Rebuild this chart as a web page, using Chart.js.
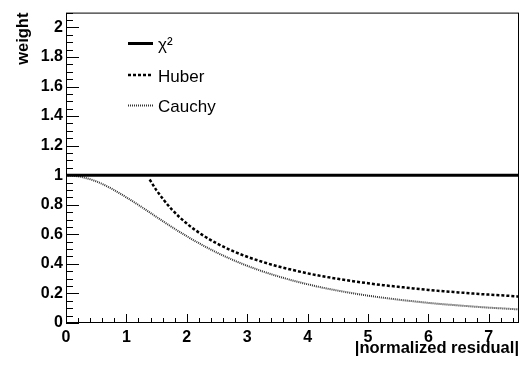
<!DOCTYPE html>
<html>
<head>
<meta charset="utf-8">
<script src="https://cdn.jsdelivr.net/npm/chart.js@4"></script>
<style>
html,body{margin:0;padding:0;background:#fff;}
canvas{display:block;}
</style>
</head>
<body>
<canvas id="c" width="524" height="371"></canvas>
<script>
// ---- data ----
const seriesNames = ['\u03C7\u00B2', 'Huber', 'Cauchy'];
const chi2X = [0, 7.5];
const chi2Weights = [1, 1];
const huberX = [1.385, 1.5, 1.75, 2.0, 2.25, 2.5, 2.75, 3.0, 3.25, 3.5, 3.75, 4.0, 4.25, 4.5, 4.75, 5.0, 5.25, 5.5, 5.75, 6.0, 6.25, 6.5, 6.75, 7.0, 7.25, 7.5];
const huberWeights = [0.971, 0.897, 0.769, 0.673, 0.598, 0.538, 0.489, 0.448, 0.414, 0.384, 0.359, 0.336, 0.316, 0.299, 0.283, 0.269, 0.256, 0.245, 0.234, 0.224, 0.215, 0.207, 0.199, 0.192, 0.186, 0.179];
const cauchyX = [0, 0.25, 0.5, 0.75, 1.0, 1.25, 1.5, 1.75, 2.0, 2.25, 2.5, 2.75, 3.0, 3.25, 3.5, 3.75, 4.0, 4.25, 4.5, 4.75, 5.0, 5.25, 5.5, 5.75, 6.0, 6.25, 6.5, 6.75, 7.0, 7.25, 7.5];
const cauchyWeights = [1.0, 0.989, 0.958, 0.910, 0.850, 0.785, 0.717, 0.650, 0.587, 0.529, 0.476, 0.429, 0.387, 0.350, 0.317, 0.288, 0.262, 0.239, 0.219, 0.201, 0.185, 0.171, 0.158, 0.147, 0.136, 0.127, 0.119, 0.111, 0.104, 0.098, 0.092];
const xTickValues = [0, 1, 2, 3, 4, 5, 6, 7];
const xTickLabels = ['0', '1', '2', '3', '4', '5', '6', '7'];
const yTickValues = [0, 0.2, 0.4, 0.6, 0.8, 1, 1.2, 1.4, 1.6, 1.8, 2];
const yTickLabels = ['0', '0.2', '0.4', '0.6', '0.8', '1', '1.2', '1.4', '1.6', '1.8', '2'];
const xTitle = '|normalized residual|';
const yTitle = 'weight';

const toPts = (xs, ys) => xs.map((v, i) => ({x: v, y: ys[i]}));

const FONT = "'Liberation Sans', Arial, Helvetica, sans-serif";

const frameTicks = {
  id: 'frameTicks',
  afterDatasetsDraw(chart) {
    const {ctx, chartArea: a, scales: {x, y}} = chart;
    ctx.save();
    ctx.strokeStyle = '#000';
    ctx.lineWidth = 1;
    ctx.beginPath();
    for (let i = 0; i <= 42; i++) {
      const v = i * 0.05;
      const py = Math.round(y.getPixelForValue(v)) + 0.5;
      const len = (i % 4 === 0) ? 13 : 7;
      ctx.moveTo(a.left, py); ctx.lineTo(a.left + len, py);
    }
    for (let i = 0; i <= 37; i++) {
      const v = i * 0.2;
      const px = Math.round(x.getPixelForValue(v)) + 0.5;
      const len = (i % 5 === 0) ? 9 : 5;
      ctx.moveTo(px, a.bottom); ctx.lineTo(px, a.bottom - len);
    }
    ctx.stroke();
    ctx.strokeRect(a.left + 0.5, a.top + 0.5, a.right - a.left - 1, a.bottom - a.top - 1);
    ctx.restore();
  }
};

const legendPlugin = {
  id: 'customLegend',
  afterDraw(chart) {
    const ctx = chart.ctx;
    const rows = [43.5, 75, 105.5];
    const x0 = 128, x1 = 153, tx = 158;
    ctx.save();
    chart.data.datasets.forEach((ds, i) => {
      const yy = rows[i];
      ctx.beginPath();
      ctx.strokeStyle = ds.borderColor;
      ctx.lineWidth = ds.borderWidth;
      ctx.setLineDash(ds.borderDash || []);
      ctx.moveTo(x0, yy); ctx.lineTo(x1, yy);
      ctx.stroke();
      ctx.setLineDash([]);
      ctx.fillStyle = '#000';
      ctx.font = '17px ' + FONT;
      ctx.textBaseline = 'middle';
      ctx.textAlign = 'left';
      ctx.fillText(ds.label, tx, yy + 2);
    });
    ctx.restore();
  }
};

new Chart(document.getElementById('c'), {
  type: 'line',
  data: {
    datasets: [
      {label: seriesNames[0], data: toPts(chi2X, chi2Weights), borderColor: '#000', borderWidth: 3, pointRadius: 0, fill: false},
      {label: seriesNames[1], data: toPts(huberX, huberWeights), borderColor: '#000', borderWidth: 2.5, borderDash: [3, 2], pointRadius: 0, fill: false, cubicInterpolationMode: 'monotone'},
      {label: seriesNames[2], data: toPts(cauchyX, cauchyWeights), borderColor: '#333', borderWidth: 2, borderDash: [1, 1], pointRadius: 0, fill: false, cubicInterpolationMode: 'monotone'}
    ]
  },
  options: {
    responsive: false,
    devicePixelRatio: 1,
    animation: false,
    layout: {padding: {top: 5, right: 5, left: 0, bottom: 0}},
    plugins: {legend: {display: false}, tooltip: {enabled: false}},
    scales: {
      x: {
        type: 'linear', min: 0, max: 7.5,
        afterFit(s) { s.height = 48; },
        afterBuildTicks(s) { s.ticks = xTickValues.map(v => ({value: v})); },
        grid: {display: false, drawTicks: false},
        border: {display: false},
        ticks: {
          padding: 5, maxRotation: 0, autoSkip: false,
          color: '#000', font: {family: FONT, size: 16, weight: 'bold'},
          callback: (v) => { const k = xTickValues.indexOf(v); return k >= 0 ? xTickLabels[k] : ''; }
        },
        title: {display: true, text: xTitle, align: 'end', color: '#000', padding: {top: 0, bottom: 13}, font: {family: FONT, size: 16.5, weight: 'bold'}}
      },
      y: {
        type: 'linear', min: 0, max: 2.1,
        afterFit(s) { s.width = 66; },
        afterBuildTicks(s) { s.ticks = yTickValues.map(v => ({value: v})); },
        grid: {display: false, drawTicks: false},
        border: {display: false},
        ticks: {
          padding: 3, autoSkip: false,
          color: '#000', font: {family: FONT, size: 16, weight: 'bold'},
          callback: (v) => { const k = yTickValues.indexOf(v); return k >= 0 ? yTickLabels[k] : ''; }
        },
        title: {display: true, text: yTitle, align: 'end', color: '#000', padding: {top: 14, bottom: 0}, font: {family: FONT, size: 16.5, weight: 'bold'}}
      }
    }
  },
  plugins: [frameTicks, legendPlugin]
});
</script>
</body>
</html>
